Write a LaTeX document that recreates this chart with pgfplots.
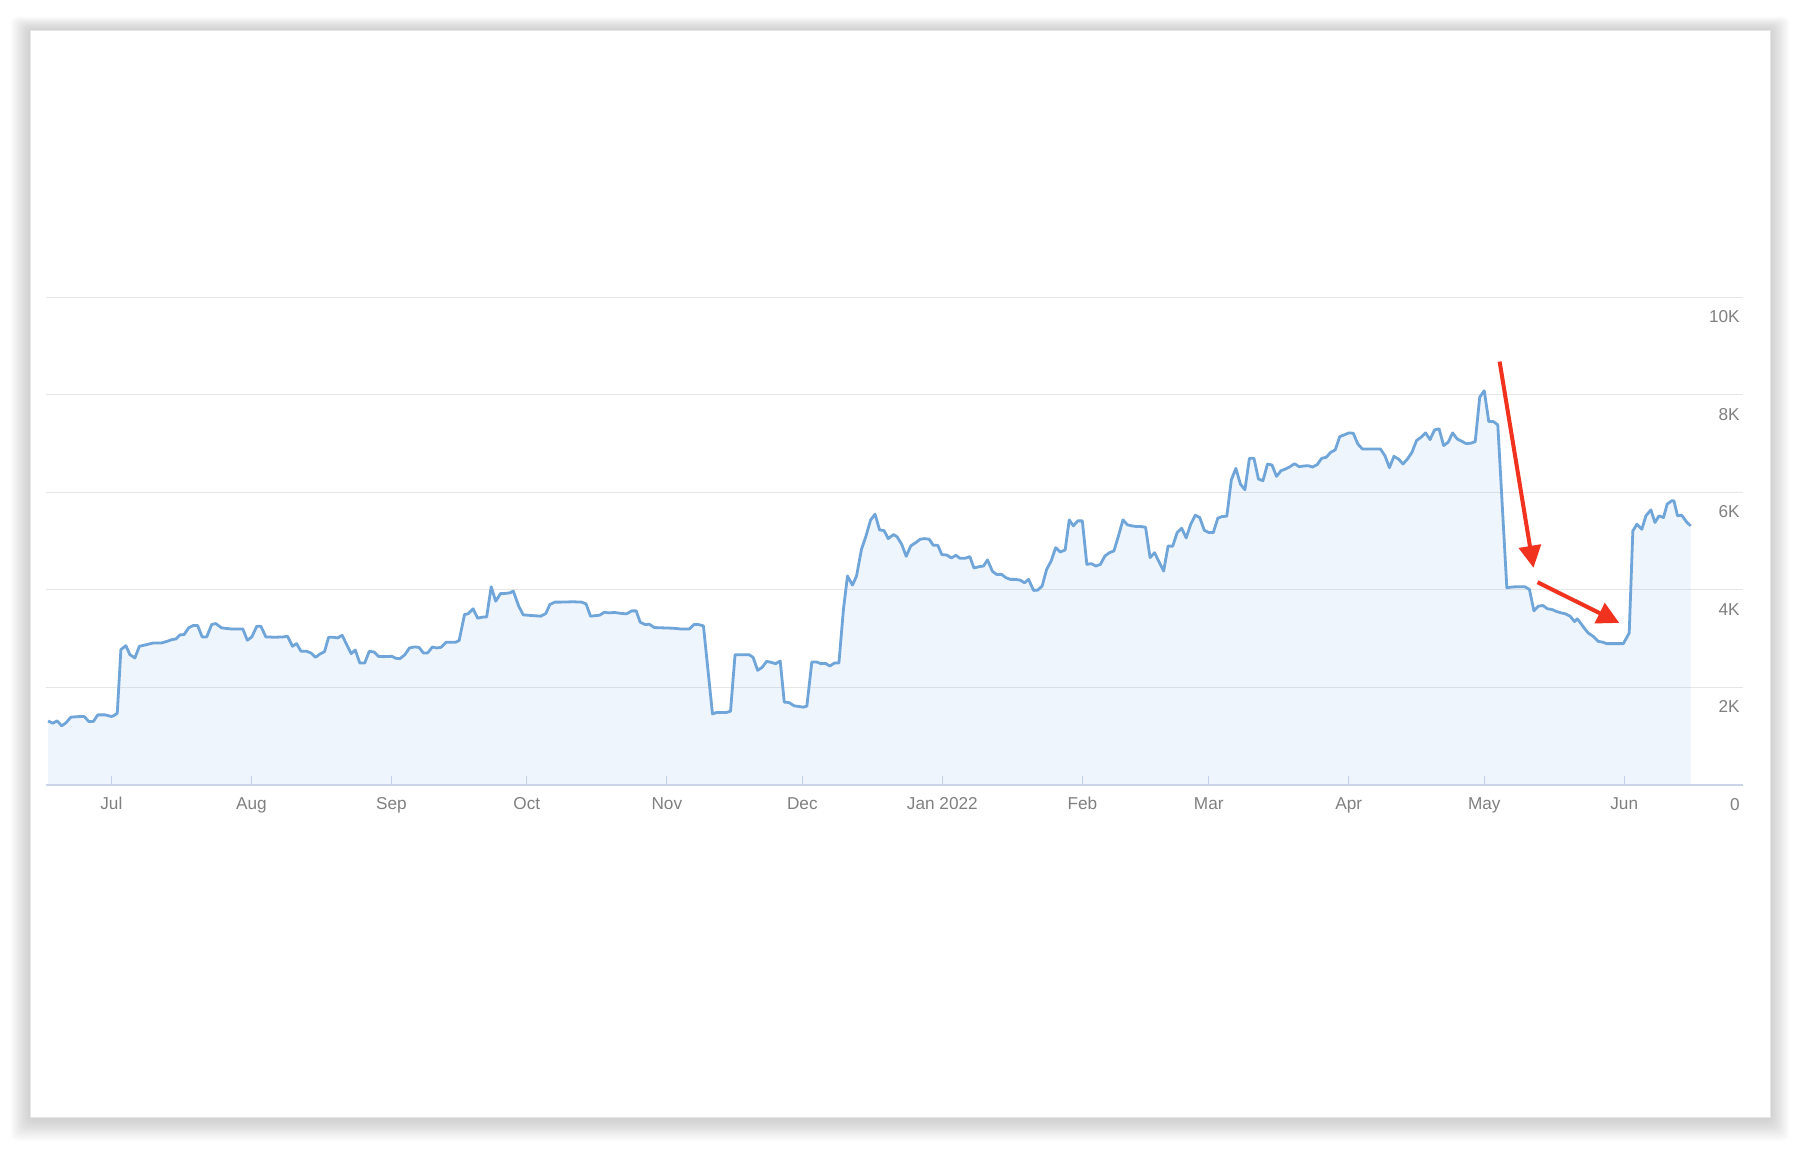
\documentclass[border=0pt]{standalone}
\usepackage{fontspec}
\setmainfont{Liberation Sans}
\usepackage{pgfplots}
\pgfplotsset{compat=1.18}
\usepackage{pgfplotstable}
\usetikzlibrary{arrows.meta}

\definecolor{linecol}{HTML}{6FA5D8}
\definecolor{fillcol}{HTML}{7CB5EC}
\definecolor{gridcol}{HTML}{E6E6E6}
\definecolor{axiscol}{HTML}{CCD6EB}
\definecolor{labelcol}{HTML}{808080}
\definecolor{arrowred}{HTML}{F0321E}

% days counted from 1 Jul 2021
\pgfplotstableread{
day value
-14 1314
-13 1266
-12 1314
-11 1212
-10 1280
-9 1390
-7 1404
-6 1404
-5 1301
-4 1301
-3 1438
-1.4 1438
0 1404
0.6 1424
1.3 1472
2.1 2775
3.2 2857
4.1 2672
5.2 2604
6.2 2844
7.8 2878
9.3 2912
11.1 2912
12.6 2953
13.4 2981
14.3 2994
15.2 3077
16.1 3084
17.1 3221
18.1 3269
19.1 3269
20.1 3036
21.1 3036
22.2 3289
23.1 3310
24.4 3221
26.3 3200
29.1 3200
30.1 2967
31.1 3036
32.2 3255
33.1 3255
34.2 3036
36.2 3029
38.1 3036
39 3049
40.1 2844
41 2898
42 2741
43.2 2741
44.2 2706
45.2 2617
46.2 2686
47.2 2734
48.1 3029
49.1 3029
50.1 3015
51.1 3070
52.1 2878
53.1 2693
54 2768
55 2501
56.1 2501
57.1 2741
58.2 2727
59.1 2638
60.2 2631
62.1 2638
63 2597
63.9 2590
65 2672
66 2809
67.1 2830
68.1 2823
69.1 2706
70 2706
71.1 2830
72 2809
73 2823
74.1 2926
75.1 2926
76.2 2926
77 2960
78.2 3495
79 3509
80.1 3612
81.1 3420
82.1 3440
83.1 3447
84.1 4064
85.1 3769
86.2 3927
87.2 3927
88.3 3941
89 3975
90.2 3666
91.2 3488
93.1 3474
95.1 3461
96.2 3516
97.1 3701
98.2 3749
99.3 3749
102.3 3756
104.1 3749
105.1 3714
106.1 3461
108.1 3481
109.2 3543
110 3529
111.5 3536
113 3516
114.1 3509
115.2 3570
116.2 3570
117.1 3337
118.2 3289
119.1 3296
120.2 3228
122.2 3221
124.4 3214
125.9 3200
128 3200
129 3289
130 3289
131.1 3262
133.1 1458
134 1486
136.2 1486
137.1 1513
138.1 2672
139.9 2672
141.2 2672
142.1 2617
143.1 2350
144.1 2412
145.1 2535
146.1 2514
147.1 2487
148.1 2542
149 1698
150 1692
151.2 1623
152.3 1609
153.2 1596
154 1616
155.1 2521
156.2 2521
157.1 2487
158.1 2494
159.1 2439
160.1 2501
161.1 2501
162.1 3598
163 4284
164.1 4098
165 4284
166.1 4832
167.1 5106
168.1 5429
169.1 5552
170.1 5230
171.1 5216
172 5051
173.2 5134
174 5086
175 4935
176 4688
177 4901
178.1 4969
179.1 5038
180 5051
181.1 5038
182 4914
183 4914
183.9 4722
185 4715
186 4654
187 4709
187.9 4647
189 4647
190.1 4681
191 4448
192.1 4475
193.1 4489
194 4613
195.1 4380
196 4318
197.1 4318
198.1 4249
199.1 4215
200.1 4215
201.2 4201
202.2 4146
203.1 4215
204.2 3989
205.1 3995
206.1 4078
207.1 4421
208.1 4592
209.1 4866
210.1 4777
211.2 4818
212.1 5435
213 5312
214 5415
215 5415
216 4523
217 4537
218 4489
219 4523
220 4695
221 4763
222 4798
223 5106
224 5435
225 5333
226 5312
227 5298
228 5298
229 5285
230 4661
231 4763
232 4571
233 4386
234 4901
235 4894
236 5175
237 5264
238 5065
239 5346
240 5531
241 5483
242 5223
243 5175
244 5175
245 5470
246 5504
247 5511
248 6258
249 6491
250 6169
251 6053
252 6697
253 6697
254 6272
255 6238
256 6581
257 6560
258 6327
259 6443
260 6478
261 6526
262 6587
263 6526
264 6539
265 6546
266 6519
267 6567
268 6697
269 6718
270 6821
271 6869
272 7143
273 7177
274 7218
275 7211
276 6992
277 6889
278 6889
279 6889
280 6889
281 6889
282 6752
283 6505
284 6738
285 6683
286 6581
287 6683
288 6821
289 7061
290 7129
291 7218
292 7081
293 7280
294 7301
295 6958
296 7026
297 7218
298 7095
299 7047
300 6999
301 7006
302 7040
303 7952
304 8082
305 7451
306 7451
307 7383
309 4044
310 4057
311 4064
312 4064
313 4064
314 4009
315 3570
316 3666
317 3680
318 3612
319 3598
320 3557
321 3529
322 3509
323 3461
324 3350
324.6 3406
325.3 3324
326.1 3221
327 3118
328.1 3049
329.2 2946
330.3 2926
331.1 2898
332.6 2898
334.8 2898
335.5 3015
336.1 3118
336.9 5209
337.8 5346
338.9 5243
339.8 5518
340.9 5641
341.8 5381
342.7 5518
343.7 5483
344.5 5758
345.5 5826
346 5826
346.8 5518
347.7 5531
348.8 5394
349.7 5312
}\traffic

\begin{document}
\begin{tikzpicture}
\useasboundingbox (0,0) rectangle (900pt,574pt);
% soft card shadow
\foreach \i in {1,...,12} {
  \fill[black, opacity=0.016, rounded corners=3pt]
    ({15pt-\i*0.8pt},{14.5pt-\i*0.9pt}) rectangle ({885pt+\i*0.8pt},{559pt+\i*0.55pt});
}
\fill[white] (15pt,15.5pt) rectangle (885pt,559pt);
\draw[black!10, line width=0.4pt] (15pt,15.5pt) rectangle (885pt,559pt);

\begin{axis}[
  at={(23pt,181.5pt)}, anchor=south west,
  scale only axis, width=848.5pt, height=243.9pt,
  xmin=-14.48, xmax=361.3, ymin=0, ymax=10000,
  axis line style={draw=none},
  xtick={0,31,62,92,123,153,184,215,243,274,304,335},
  xticklabels={Jul,Aug,Sep,Oct,Nov,Dec,Jan 2022,Feb,Mar,Apr,May,Jun},
  ytick={0,2000,...,10000},
  yticklabels={0,2K,4K,6K,8K,10K},
  scaled y ticks=false,
  ymajorgrids, major grid style={gridcol, line width=0.6pt},
  xtick align=inside, major tick length=4.5pt,
  xtick pos=left,
  xtick style={axiscol, line width=0.6pt},
  ytick style={draw=none},
  yticklabel pos=right,
  ticklabel style={font=\fontsize{8.6}{10}\selectfont, text=labelcol},
  xticklabel style={anchor=north, inner sep=0pt, yshift=-6pt},
  yticklabel style={anchor=north east, inner sep=0pt, xshift=-1.5pt, yshift=-6.5pt},
  clip=false,
]
\addplot[draw=none, fill=fillcol, fill opacity=0.13] table[x=day, y=value] {\traffic} \closedcycle;
\addplot[linecol, line width=1.4pt, line join=round] table[x=day, y=value] {\traffic};
\draw[axiscol, line width=1pt] (rel axis cs:0,0) -- (rel axis cs:1,0);
\draw[arrowred, line width=2pt, -{Triangle[length=11pt,width=11pt]}]
  (axis cs:307.4,8680) -- (axis cs:314.9,4453);
\draw[arrowred, line width=2pt, -{Triangle[length=11pt,width=11pt]}]
  (axis cs:315.8,4157) -- (axis cs:333.9,3323);
\end{axis}
\end{tikzpicture}
\end{document}
